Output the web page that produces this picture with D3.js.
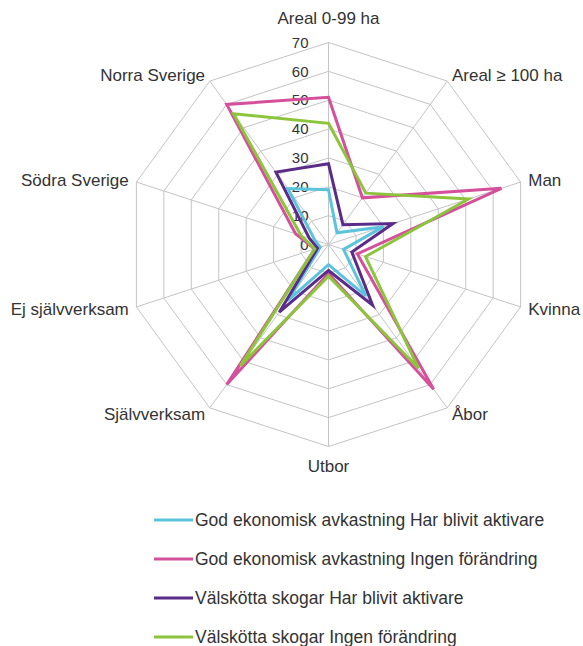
<!DOCTYPE html>
<html>
<head>
<meta charset="utf-8">
<script src="https://cdnjs.cloudflare.com/ajax/libs/d3/7.8.5/d3.min.js"></script>
<style>
body { margin: 0; background: #fff; }
text { font-family: "Liberation Sans", Arial, sans-serif; fill: #333; }
</style>
</head>
<body>
<script>
var axes = ["Areal 0-99 ha", "Areal \u2265 100 ha", "Man", "Kvinna", "\u00c5bor", "Utbor",
            "Sj\u00e4lvverksam", "Ej sj\u00e4lvverksam", "S\u00f6dra Sverige", "Norra Sverige"]
var ticks = [0, 10, 20, 30, 40, 50, 60, 70]

var seriesNames = ["God ekonomisk avkastning Har blivit aktivare",
                   "God ekonomisk avkastning Ingen f\u00f6r\u00e4ndring",
                   "V\u00e4lsk\u00f6tta skogar Har blivit aktivare",
                   "V\u00e4lsk\u00f6tta skogar Ingen f\u00f6r\u00e4ndring"]
var godAktivare = [19, 5, 20, 5.5, 22, 7, 24, 3, 5, 24]
var godIngen = [51, 20, 63, 10.5, 62, 10, 60, 5, 12, 60]
var valAktivare = [28, 8.5, 23.5, 8.5, 26, 9, 29, 4, 7, 31]
var valIngen = [42, 22, 51, 13.5, 53, 11, 52, 5, 10, 56]
var colors = ["#5bc4dc", "#d4509a", "#5a2b88", "#8cc43c"]

var allSeries = [godAktivare, godIngen, valAktivare, valIngen]

var width = 583, height = 646
var cx = 328.5, cy = 244.5

var svg = d3.select("body").append("svg")
    .attr("width", width)
    .attr("height", height)

var r = d3.scaleLinear().domain([0, 70]).range([0, 202])
var angle = d3.scaleBand().domain(axes).range([0, 2 * Math.PI]).paddingInner(0).align(0)

function pt(name, v) {
    var a = angle(name)
    return [cx + r(v) * Math.sin(a), cy - r(v) * Math.cos(a)]
}

var g = svg.append("g")

// rings
g.selectAll(".ring")
    .data(ticks.slice(1))
    .enter().append("polygon")
    .attr("class", "ring")
    .attr("points", function(t) {
        return axes.map(function(a) { return pt(a, t).join(","); }).join(" ")
    })
    .attr("fill", "none")
    .attr("stroke", "#c4c4c4")
    .attr("stroke-width", 1)

// spokes
g.selectAll(".spoke")
    .data(axes)
    .enter().append("line")
    .attr("x1", cx).attr("y1", cy)
    .attr("x2", function(d) { return pt(d, 70)[0]; })
    .attr("y2", function(d) { return pt(d, 70)[1]; })
    .attr("stroke", "#c4c4c4")
    .attr("stroke-width", 1)

// tick labels
g.selectAll(".tick")
    .data(ticks)
    .enter().append("text")
    .attr("x", cx - 20)
    .attr("y", function(d) { return cy - r(d); })
    .attr("dy", "0.35em")
    .attr("text-anchor", "end")
    .style("font-size", "15px")
    .text(function(d) { return d; })

// axis labels
g.selectAll(".axlab")
    .data(axes)
    .enter().append("text")
    .attr("x", function(d) {
        var a = angle(d)
        return cx + (r(70) + 8) * Math.sin(a)
    })
    .attr("y", function(d) {
        var a = angle(d)
        var y = cy - (r(70) + 8) * Math.cos(a)
        if (Math.abs(Math.sin(a)) < 0.01) y += Math.cos(a) > 0 ? -16 : 12
        return y
    })
    .attr("dy", "0.35em")
    .attr("text-anchor", function(d) {
        var s = Math.sin(angle(d))
        if (Math.abs(s) < 0.01) return "middle"
        return s > 0 ? "start" : "end"
    })
    .style("font-size", "17px")
    .text(function(d) { return d; })

// series
g.selectAll(".series")
    .data(allSeries)
    .enter().append("polygon")
    .attr("points", function(s) {
        return axes.map(function(a, i) { return pt(a, s[i]).join(","); }).join(" ")
    })
    .attr("fill", "none")
    .attr("stroke", function(d, i) { return colors[i]; })
    .attr("stroke-width", 3)
    .attr("stroke-linejoin", "miter")

// legend
var legend = svg.selectAll(".legend")
    .data(seriesNames)
    .enter().append("g")
    .attr("transform", function(d, i) { return "translate(154," + (520 + i * 39) + ")"; })

legend.append("line")
    .attr("x1", 0).attr("x2", 39)
    .attr("stroke", function(d, i) { return colors[i]; })
    .attr("stroke-width", 3)

legend.append("text")
    .attr("x", 41)
    .attr("dy", "0.35em")
    .style("font-size", "17.5px")
    .text(function(d) { return d; })
</script>
</body>
</html>
